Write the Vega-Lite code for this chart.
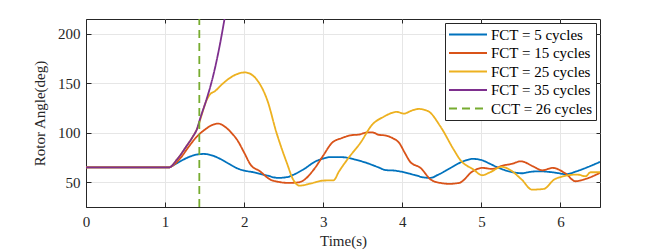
{
  "$schema": "https://vega.github.io/schema/vega-lite/v6.json",
  "width": 514,
  "height": 188,
  "autosize": "none",
  "padding": {"left": 86, "top": 19, "right": 64, "bottom": 44},
  "background": "white",
  "view": {"stroke": "#262626", "strokeWidth": 1},
  "config": {
    "font": "Liberation Serif",
    "axis": {"labelFont": "Liberation Serif", "titleFont": "Liberation Serif", "labelFontSize": 15, "titleFontSize": 15, "titleFontWeight": "normal", "labelColor": "#262626", "titleColor": "#262626", "domainColor": "#262626", "tickColor": "#262626", "gridColor": "#e6e6e6", "gridWidth": 1},
    "legend": {"labelFont": "Liberation Serif", "titleFont": "Liberation Serif", "labelFontSize": 15, "labelColor": "#000000"}
  },
  "data": {"values": [
    {"t": 0, "v": 65, "s": "FCT = 5 cycles"},
    {"t": 1.05, "v": 65, "s": "FCT = 5 cycles"},
    {"t": 1.1, "v": 67, "s": "FCT = 5 cycles"},
    {"t": 1.2, "v": 71.5, "s": "FCT = 5 cycles"},
    {"t": 1.3, "v": 75.5, "s": "FCT = 5 cycles"},
    {"t": 1.4, "v": 78, "s": "FCT = 5 cycles"},
    {"t": 1.49, "v": 78.6, "s": "FCT = 5 cycles"},
    {"t": 1.6, "v": 77, "s": "FCT = 5 cycles"},
    {"t": 1.7, "v": 73.5, "s": "FCT = 5 cycles"},
    {"t": 1.8, "v": 69, "s": "FCT = 5 cycles"},
    {"t": 1.9, "v": 64.5, "s": "FCT = 5 cycles"},
    {"t": 1.99, "v": 62, "s": "FCT = 5 cycles"},
    {"t": 2.12, "v": 60.1, "s": "FCT = 5 cycles"},
    {"t": 2.29, "v": 56.8, "s": "FCT = 5 cycles"},
    {"t": 2.43, "v": 54.4, "s": "FCT = 5 cycles"},
    {"t": 2.55, "v": 55.3, "s": "FCT = 5 cycles"},
    {"t": 2.62, "v": 57.5, "s": "FCT = 5 cycles"},
    {"t": 2.75, "v": 63, "s": "FCT = 5 cycles"},
    {"t": 2.9, "v": 71, "s": "FCT = 5 cycles"},
    {"t": 3.0, "v": 74, "s": "FCT = 5 cycles"},
    {"t": 3.1, "v": 75.5, "s": "FCT = 5 cycles"},
    {"t": 3.25, "v": 75.3, "s": "FCT = 5 cycles"},
    {"t": 3.4, "v": 73, "s": "FCT = 5 cycles"},
    {"t": 3.55, "v": 69.5, "s": "FCT = 5 cycles"},
    {"t": 3.7, "v": 65, "s": "FCT = 5 cycles"},
    {"t": 3.79, "v": 62.3, "s": "FCT = 5 cycles"},
    {"t": 3.9, "v": 61.8, "s": "FCT = 5 cycles"},
    {"t": 4.0, "v": 60.5, "s": "FCT = 5 cycles"},
    {"t": 4.15, "v": 57.5, "s": "FCT = 5 cycles"},
    {"t": 4.3, "v": 54.6, "s": "FCT = 5 cycles"},
    {"t": 4.36, "v": 54.5, "s": "FCT = 5 cycles"},
    {"t": 4.45, "v": 57.5, "s": "FCT = 5 cycles"},
    {"t": 4.6, "v": 64, "s": "FCT = 5 cycles"},
    {"t": 4.75, "v": 70.5, "s": "FCT = 5 cycles"},
    {"t": 4.89, "v": 73.6, "s": "FCT = 5 cycles"},
    {"t": 5.0, "v": 72.5, "s": "FCT = 5 cycles"},
    {"t": 5.1, "v": 69, "s": "FCT = 5 cycles"},
    {"t": 5.22, "v": 64.5, "s": "FCT = 5 cycles"},
    {"t": 5.35, "v": 61, "s": "FCT = 5 cycles"},
    {"t": 5.52, "v": 59.1, "s": "FCT = 5 cycles"},
    {"t": 5.6, "v": 60.3, "s": "FCT = 5 cycles"},
    {"t": 5.73, "v": 61.1, "s": "FCT = 5 cycles"},
    {"t": 5.85, "v": 60.5, "s": "FCT = 5 cycles"},
    {"t": 5.95, "v": 59.5, "s": "FCT = 5 cycles"},
    {"t": 6.07, "v": 58.1, "s": "FCT = 5 cycles"},
    {"t": 6.2, "v": 61, "s": "FCT = 5 cycles"},
    {"t": 6.35, "v": 65.5, "s": "FCT = 5 cycles"},
    {"t": 6.5, "v": 70.6, "s": "FCT = 5 cycles"},

    {"t": 0, "v": 65, "s": "FCT = 15 cycles"},
    {"t": 1.05, "v": 65, "s": "FCT = 15 cycles"},
    {"t": 1.1, "v": 67, "s": "FCT = 15 cycles"},
    {"t": 1.2, "v": 75, "s": "FCT = 15 cycles"},
    {"t": 1.3, "v": 86, "s": "FCT = 15 cycles"},
    {"t": 1.4, "v": 96, "s": "FCT = 15 cycles"},
    {"t": 1.5, "v": 103, "s": "FCT = 15 cycles"},
    {"t": 1.6, "v": 108, "s": "FCT = 15 cycles"},
    {"t": 1.675, "v": 109.3, "s": "FCT = 15 cycles"},
    {"t": 1.75, "v": 106.5, "s": "FCT = 15 cycles"},
    {"t": 1.85, "v": 99, "s": "FCT = 15 cycles"},
    {"t": 1.91, "v": 93, "s": "FCT = 15 cycles"},
    {"t": 2.0, "v": 80, "s": "FCT = 15 cycles"},
    {"t": 2.08, "v": 67.9, "s": "FCT = 15 cycles"},
    {"t": 2.2, "v": 61.1, "s": "FCT = 15 cycles"},
    {"t": 2.33, "v": 52.7, "s": "FCT = 15 cycles"},
    {"t": 2.45, "v": 50.2, "s": "FCT = 15 cycles"},
    {"t": 2.54, "v": 49.4, "s": "FCT = 15 cycles"},
    {"t": 2.65, "v": 49.6, "s": "FCT = 15 cycles"},
    {"t": 2.73, "v": 51, "s": "FCT = 15 cycles"},
    {"t": 2.88, "v": 62.8, "s": "FCT = 15 cycles"},
    {"t": 3.0, "v": 77, "s": "FCT = 15 cycles"},
    {"t": 3.11, "v": 89.8, "s": "FCT = 15 cycles"},
    {"t": 3.24, "v": 94.8, "s": "FCT = 15 cycles"},
    {"t": 3.35, "v": 97.5, "s": "FCT = 15 cycles"},
    {"t": 3.45, "v": 98.2, "s": "FCT = 15 cycles"},
    {"t": 3.55, "v": 100.3, "s": "FCT = 15 cycles"},
    {"t": 3.62, "v": 100.5, "s": "FCT = 15 cycles"},
    {"t": 3.7, "v": 98, "s": "FCT = 15 cycles"},
    {"t": 3.79, "v": 97.2, "s": "FCT = 15 cycles"},
    {"t": 3.88, "v": 94.5, "s": "FCT = 15 cycles"},
    {"t": 3.96, "v": 89.8, "s": "FCT = 15 cycles"},
    {"t": 4.03, "v": 80, "s": "FCT = 15 cycles"},
    {"t": 4.1, "v": 70.6, "s": "FCT = 15 cycles"},
    {"t": 4.23, "v": 64.5, "s": "FCT = 15 cycles"},
    {"t": 4.36, "v": 52.7, "s": "FCT = 15 cycles"},
    {"t": 4.47, "v": 49.5, "s": "FCT = 15 cycles"},
    {"t": 4.59, "v": 48.4, "s": "FCT = 15 cycles"},
    {"t": 4.72, "v": 49.4, "s": "FCT = 15 cycles"},
    {"t": 4.89, "v": 61.1, "s": "FCT = 15 cycles"},
    {"t": 5.01, "v": 64.5, "s": "FCT = 15 cycles"},
    {"t": 5.14, "v": 63.5, "s": "FCT = 15 cycles"},
    {"t": 5.27, "v": 66.9, "s": "FCT = 15 cycles"},
    {"t": 5.38, "v": 68.5, "s": "FCT = 15 cycles"},
    {"t": 5.5, "v": 71.2, "s": "FCT = 15 cycles"},
    {"t": 5.65, "v": 66.2, "s": "FCT = 15 cycles"},
    {"t": 5.77, "v": 62.1, "s": "FCT = 15 cycles"},
    {"t": 5.9, "v": 64.5, "s": "FCT = 15 cycles"},
    {"t": 6.07, "v": 58.5, "s": "FCT = 15 cycles"},
    {"t": 6.19, "v": 51, "s": "FCT = 15 cycles"},
    {"t": 6.32, "v": 53.4, "s": "FCT = 15 cycles"},
    {"t": 6.5, "v": 59.5, "s": "FCT = 15 cycles"},

    {"t": 0, "v": 65, "s": "FCT = 25 cycles"},
    {"t": 1.05, "v": 65, "s": "FCT = 25 cycles"},
    {"t": 1.15, "v": 72.9, "s": "FCT = 25 cycles"},
    {"t": 1.27, "v": 86.4, "s": "FCT = 25 cycles"},
    {"t": 1.35, "v": 96, "s": "FCT = 25 cycles"},
    {"t": 1.42, "v": 107, "s": "FCT = 25 cycles"},
    {"t": 1.47, "v": 120, "s": "FCT = 25 cycles"},
    {"t": 1.52, "v": 132, "s": "FCT = 25 cycles"},
    {"t": 1.57, "v": 139, "s": "FCT = 25 cycles"},
    {"t": 1.63, "v": 142, "s": "FCT = 25 cycles"},
    {"t": 1.7, "v": 147.5, "s": "FCT = 25 cycles"},
    {"t": 1.82, "v": 155.4, "s": "FCT = 25 cycles"},
    {"t": 1.9, "v": 159, "s": "FCT = 25 cycles"},
    {"t": 2.01, "v": 161, "s": "FCT = 25 cycles"},
    {"t": 2.1, "v": 158.5, "s": "FCT = 25 cycles"},
    {"t": 2.16, "v": 153.7, "s": "FCT = 25 cycles"},
    {"t": 2.29, "v": 133.5, "s": "FCT = 25 cycles"},
    {"t": 2.41, "v": 99.8, "s": "FCT = 25 cycles"},
    {"t": 2.54, "v": 69.5, "s": "FCT = 25 cycles"},
    {"t": 2.62, "v": 52.7, "s": "FCT = 25 cycles"},
    {"t": 2.7, "v": 46.6, "s": "FCT = 25 cycles"},
    {"t": 2.84, "v": 48.7, "s": "FCT = 25 cycles"},
    {"t": 3.0, "v": 51.7, "s": "FCT = 25 cycles"},
    {"t": 3.13, "v": 52, "s": "FCT = 25 cycles"},
    {"t": 3.2, "v": 61, "s": "FCT = 25 cycles"},
    {"t": 3.32, "v": 74.6, "s": "FCT = 25 cycles"},
    {"t": 3.47, "v": 89.8, "s": "FCT = 25 cycles"},
    {"t": 3.62, "v": 108.3, "s": "FCT = 25 cycles"},
    {"t": 3.76, "v": 116, "s": "FCT = 25 cycles"},
    {"t": 3.93, "v": 121.1, "s": "FCT = 25 cycles"},
    {"t": 4.02, "v": 119.4, "s": "FCT = 25 cycles"},
    {"t": 4.12, "v": 122.5, "s": "FCT = 25 cycles"},
    {"t": 4.21, "v": 124.1, "s": "FCT = 25 cycles"},
    {"t": 4.33, "v": 121.7, "s": "FCT = 25 cycles"},
    {"t": 4.48, "v": 106.6, "s": "FCT = 25 cycles"},
    {"t": 4.65, "v": 83, "s": "FCT = 25 cycles"},
    {"t": 4.73, "v": 72.9, "s": "FCT = 25 cycles"},
    {"t": 4.9, "v": 62.8, "s": "FCT = 25 cycles"},
    {"t": 5.01, "v": 57.1, "s": "FCT = 25 cycles"},
    {"t": 5.11, "v": 60.1, "s": "FCT = 25 cycles"},
    {"t": 5.26, "v": 65.6, "s": "FCT = 25 cycles"},
    {"t": 5.37, "v": 62.1, "s": "FCT = 25 cycles"},
    {"t": 5.51, "v": 52.7, "s": "FCT = 25 cycles"},
    {"t": 5.64, "v": 42.6, "s": "FCT = 25 cycles"},
    {"t": 5.79, "v": 43.3, "s": "FCT = 25 cycles"},
    {"t": 5.92, "v": 52.7, "s": "FCT = 25 cycles"},
    {"t": 6.04, "v": 56.1, "s": "FCT = 25 cycles"},
    {"t": 6.21, "v": 57.8, "s": "FCT = 25 cycles"},
    {"t": 6.32, "v": 56.1, "s": "FCT = 25 cycles"},
    {"t": 6.38, "v": 60.1, "s": "FCT = 25 cycles"},
    {"t": 6.5, "v": 60.1, "s": "FCT = 25 cycles"},

    {"t": 0, "v": 65, "s": "FCT = 35 cycles"},
    {"t": 1.05, "v": 65, "s": "FCT = 35 cycles"},
    {"t": 1.15, "v": 72.9, "s": "FCT = 35 cycles"},
    {"t": 1.27, "v": 86.4, "s": "FCT = 35 cycles"},
    {"t": 1.35, "v": 96, "s": "FCT = 35 cycles"},
    {"t": 1.4, "v": 103.2, "s": "FCT = 35 cycles"},
    {"t": 1.45, "v": 116, "s": "FCT = 35 cycles"},
    {"t": 1.53, "v": 135.2, "s": "FCT = 35 cycles"},
    {"t": 1.6, "v": 155, "s": "FCT = 35 cycles"},
    {"t": 1.65, "v": 172.2, "s": "FCT = 35 cycles"},
    {"t": 1.7, "v": 192, "s": "FCT = 35 cycles"},
    {"t": 1.75, "v": 214.3, "s": "FCT = 35 cycles"},
    {"t": 1.78, "v": 228, "s": "FCT = 35 cycles"},

    {"t": 1.433, "v": 25, "s": "CCT = 26 cycles"},
    {"t": 1.433, "v": 215, "s": "CCT = 26 cycles"}
  ]},
  "resolve": {"axis": {"x": "independent", "y": "independent"}},
  "layer": [
    {
      "mark": {"type": "line", "strokeWidth": 1.8, "clip": true, "interpolate": "monotone"},
      "encoding": {
        "x": {"field": "t", "type": "quantitative", "scale": {"domain": [0, 6.5], "nice": false, "zero": false},
          "axis": {"title": "Time(s)", "values": [0, 1, 2, 3, 4, 5, 6], "grid": true, "tickSize": -5, "labelPadding": 12, "titlePadding": 4, "labelFlush": false, "labelOverlap": false}},
        "y": {"field": "v", "type": "quantitative", "scale": {"domain": [25, 215], "nice": false, "zero": false},
          "axis": {"title": "Rotor Angle(deg)", "values": [50, 100, 150, 200], "grid": true, "tickSize": -5, "labelPadding": 11, "titlePadding": 10}},
        "color": {"field": "s", "type": "nominal",
          "scale": {"domain": ["FCT = 5 cycles", "FCT = 15 cycles", "FCT = 25 cycles", "FCT = 35 cycles", "CCT = 26 cycles"],
                    "range": ["#0072BD", "#D95319", "#EDB120", "#7E2F8E", "#77AC30"]},
          "legend": {"title": null, "orient": "top-right", "offset": 4, "fillColor": "white", "strokeColor": "#262626", "padding": 3, "symbolType": "stroke", "symbolSize": 1444, "symbolStrokeWidth": 1.8, "labelFont": "Liberation Serif", "labelFontSize": 15, "labelColor": "#000000", "labelOffset": 3, "rowPadding": 1.5, "clipHeight": 17, "labelLimit": 300}},
        "strokeDash": {"field": "s", "type": "nominal",
          "scale": {"domain": ["FCT = 5 cycles", "FCT = 15 cycles", "FCT = 25 cycles", "FCT = 35 cycles", "CCT = 26 cycles"],
                    "range": [[1, 0], [1, 0], [1, 0], [1, 0], [8, 5]]},
          "legend": {"title": null, "orient": "top-right", "offset": 4, "fillColor": "white", "strokeColor": "#262626", "padding": 3, "symbolType": "stroke", "symbolSize": 1444, "symbolStrokeWidth": 1.8, "labelFont": "Liberation Serif", "labelFontSize": 15, "labelColor": "#000000", "labelOffset": 3, "rowPadding": 1.5, "clipHeight": 17, "labelLimit": 300}},
        "order": {"field": "t", "type": "quantitative"}
      }
    },
    {
      "mark": {"type": "point", "opacity": 0},
      "encoding": {
        "x": {"field": "t", "type": "quantitative", "axis": {"orient": "top", "title": null, "labels": false, "grid": false, "domain": false, "tickSize": -4, "values": [0, 1, 2, 3, 4, 5, 6]}},
        "y": {"field": "v", "type": "quantitative", "axis": {"orient": "right", "title": null, "labels": false, "grid": false, "domain": false, "tickSize": -4, "values": [50, 100, 150, 200]}}
      }
    }
  ]
}
